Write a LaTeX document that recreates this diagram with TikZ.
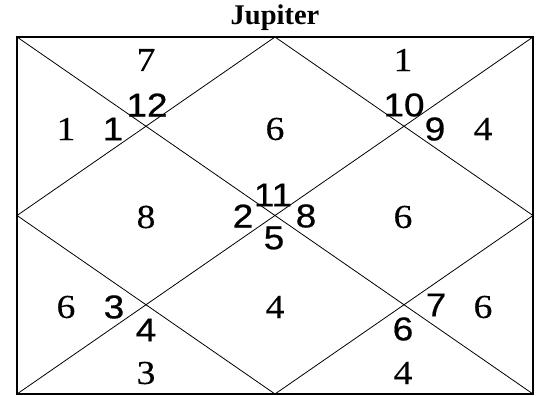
\documentclass[tikz,border=0pt]{standalone}
\usepackage{fontspec}
\setmainfont{Liberation Serif}
\newfontfamily\signfont[FakeStretch=1.12,FakeBold=0.3]{Liberation Serif}
\newfontfamily\housefont[FakeStretch=1.12,FakeBold=0.6]{Liberation Sans}
\usetikzlibrary{positioning}

\tikzset{
  sign/.style={inner sep=0pt, font=\signfont\fontsize{33.5}{34}\selectfont},
  house/.style={inner sep=0pt, font=\housefont\fontsize{33}{33}\selectfont},
  grid line/.style={line width=0.8pt}
}

\begin{document}
\begin{tikzpicture}[x=1pt, y=-1pt]
      \useasboundingbox (0,0) rectangle (539,396);
      % frame corners and edge midpoints
      \coordinate (tl) at (17,37);  \coordinate (tr) at (533,37);
      \coordinate (bl) at (17,394); \coordinate (br) at (533,394);
      \coordinate (tm) at (275,37); \coordinate (bm) at (275,394);
      \coordinate (lm) at (17,215.5); \coordinate (rm) at (533,215.5);
      \node[font=\bfseries\fontsize{28.5}{29}\selectfont, anchor=base] (title) at (275,25) {Jupiter};
      \draw[line width=1.6pt] (tl) rectangle (br);
      \draw[grid line] (tl) -- (br); \draw[grid line] (tr) -- (bl);
      \draw[grid line] (tm) -- (rm) -- (bm) -- (lm) -- cycle;
      % sign numbers
      \node[sign] (s1) at (146,60) {7};
      \node[sign] (s2) at (66,129) {1};
      \node[sign] (s3) at (146,217) {8};
      \node[sign] (s4) at (66,307) {6};
      \node[sign] (s5) at (146,373) {3};
      \node[sign] (s6) at (275,307) {4};
      \node[sign] (s7) at (403,373) {4};
      \node[sign] (s8) at (483,307) {6};
      \node[sign] (s9) at (403,217) {6};
      \node[sign] (s10) at (483,129) {4};
      \node[sign] (s11) at (403,60) {1};
      \node[sign] (s12) at (275,129) {6};
      % house numbers
      \node[house] (h1) at (273,195) {11};
      \node[house] (h2) at (147,105) {12};
      \node[house] (h3) at (113,129) {1};
      \node[house] (h4) at (243,216) {2};
      \node[house] (h5) at (114,307) {3};
      \node[house] (h6) at (146,330) {4};
      \node[house] (h7) at (274,238) {5};
      \node[house] (h8) at (403,329) {6};
      \node[house] (h9) at (436,305) {7};
      \node[house] (h10) at (306,216) {8};
      \node[house] (h11) at (435,129) {9};
      \node[house] (h12) at (404,105) {10};
\end{tikzpicture}
\end{document}
